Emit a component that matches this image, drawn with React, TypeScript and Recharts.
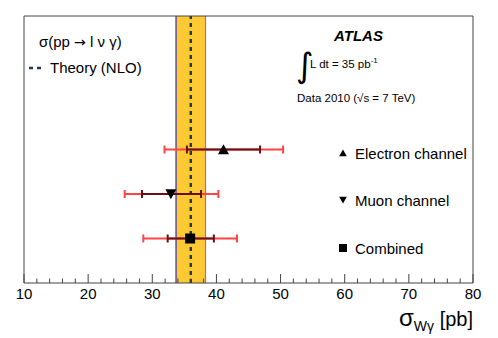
import { ScatterChart, Scatter, XAxis, YAxis, ErrorBar, ReferenceArea, ReferenceLine } from 'recharts';

const channels = ['Electron channel', 'Muon channel', 'Combined'];
const rowPos = [3, 2, 1];
const central = [41.1, 32.9, 35.9];
const statLo = [35.4, 28.4, 32.4];
const statHi = [46.8, 37.6, 39.6];
const totLo = [31.9, 25.7, 28.6];
const totHi = [50.4, 40.3, 43.2];

const theory = 36.0;
const theoryLo = 33.7;
const theoryHi = 38.3;

const xTicks = [10, 12, 14, 16, 18, 20, 22, 24, 26, 28, 30, 32, 34, 36, 38, 40, 42, 44, 46, 48, 50, 52, 54, 56, 58, 60, 62, 64, 66, 68, 70, 72, 74, 76, 78, 80];

const FONT = '"Liberation Sans", Arial, Helvetica, sans-serif';
const AXIS = '#444';

const points = channels.map((name, i) => ({
  name,
  x: central[i],
  y: rowPos[i],
  stat: [central[i] - statLo[i], statHi[i] - central[i]],
  tot: [central[i] - totLo[i], totHi[i] - central[i]],
}));

const triUp = (cx: number, cy: number, s: number) =>
  `${cx - s},${cy + s * 0.85} ${cx + s},${cy + s * 0.85} ${cx},${cy - s * 0.95}`;
const triDown = (cx: number, cy: number, s: number) =>
  `${cx - s},${cy - s * 0.85} ${cx + s},${cy - s * 0.85} ${cx},${cy + s * 0.95}`;

const shapes = [
  (p: any) => <polygon points={triUp(p.cx, p.cy, 5.5)} fill="#000" />,
  (p: any) => <polygon points={triDown(p.cx, p.cy, 5.5)} fill="#000" />,
  (p: any) => <rect x={p.cx - 5} y={p.cy - 5} width={10} height={10} fill="#000" />,
];

const BottomTick = (props: any) => {
  const { x, y, payload } = props;
  const major = payload.value % 10 === 0;
  return (
    <g>
      <line x1={x} x2={x} y1={y} y2={y - (major ? 9 : 4.5)} stroke={AXIS} strokeWidth={1} />
      {major && (
        <text x={x} y={y + 16} textAnchor="middle" fontSize={15} fontFamily={FONT} fill="#000">
          {payload.value}
        </text>
      )}
    </g>
  );
};

const TopTick = (props: any) => {
  const { x, y, payload } = props;
  const major = payload.value % 10 === 0;
  return <line x1={x} x2={x} y1={y} y2={y + (major ? 8 : 4)} stroke={AXIS} strokeWidth={1} />;
};

export default function App() {
  return (
    <div style={{ position: 'absolute', left: 0, top: 0, width: 498, height: 338, background: '#fff' }}>
      <ScatterChart width={498} height={338} margin={{ top: 15, right: 24, left: 23, bottom: 0 }}>
        <XAxis
          type="number"
          dataKey="x"
          domain={[10, 80]}
          ticks={xTicks}
          interval={0}
          tickSize={0}
          tickMargin={0}
          tick={<BottomTick />}
          height={55}
          stroke={AXIS}
          allowDataOverflow
        />
        <XAxis
          xAxisId="top"
          orientation="top"
          type="number"
          domain={[10, 80]}
          ticks={xTicks}
          interval={0}
          tickSize={0}
          tickMargin={0}
          tick={<TopTick />}
          height={1}
          stroke={AXIS}
          allowDataOverflow
        />
        <YAxis type="number" dataKey="y" domain={[0, 6]} width={1} tick={false} tickLine={false} stroke={AXIS} />
        <YAxis yAxisId="right" orientation="right" type="number" domain={[0, 6]} width={1} tick={false} tickLine={false} stroke={AXIS} />
        <ReferenceArea x1={theoryLo} x2={theoryHi} fill="#ffc933" fillOpacity={1} stroke="none" />
        <ReferenceLine x={theoryLo} stroke="#2b2bc8" strokeWidth={1.2} />
        <ReferenceLine x={theoryHi} stroke="#7a7ad8" strokeWidth={1.2} />
        <ReferenceLine x={theory} stroke="#1e3a56" strokeWidth={2.5} strokeDasharray="4 4" />
        {points.map((pt, i) => (
          <Scatter key={pt.name} name={pt.name} data={[pt]} shape={shapes[i]} isAnimationActive={false}>
            <ErrorBar dataKey="tot" direction="x" width={4} stroke="#ff4444" strokeWidth={2} isAnimationActive={false} />
            <ErrorBar dataKey="stat" direction="x" width={4} stroke="#6a1010" strokeWidth={2} isAnimationActive={false} />
          </Scatter>
        ))}
      </ScatterChart>
      <svg width={498} height={338} style={{ position: 'absolute', left: 0, top: 0, pointerEvents: 'none' }} fontFamily={FONT}>
        <text x={39} y={47} fontSize={15} fill="#000">
          σ(pp <tspan fontFamily='"DejaVu Sans"' fontSize={14}>→</tspan> l ν γ)
        </text>
        <line x1={29} x2={44} y1={68} y2={68} stroke="#1e3a56" strokeWidth={2.5} strokeDasharray="4 4" />
        <text x={50} y={73} fontSize={15} fill="#000">Theory (NLO)</text>

        <text x={334} y={41} fontSize={15} fontWeight="bold" fontStyle="italic" fill="#000">ATLAS</text>
        <text x={296} y={77} fontSize={34} fontFamily='"DejaVu Sans"' fill="#000">∫</text>
        <text x={310} y={68} fontSize={11.5} fill="#000">
          L dt = 35 pb<tspan dy={-5} fontSize={8}>-1</tspan>
        </text>
        <text x={297} y={102} fontSize={11.5} fill="#000">Data 2010 (√s = 7 TeV)</text>

        {channels.map((name, i) => {
          const ly = [153, 200, 248][i];
          return (
            <g key={name}>
              {i === 0 && <polygon points={triUp(343, ly, 3.8)} fill="#000" />}
              {i === 1 && <polygon points={triDown(343, ly, 3.8)} fill="#000" />}
              {i === 2 && <rect x={339} y={ly - 4} width={8} height={8} fill="#000" />}
              <text x={355} y={ly + 5.5} fontSize={15} fill="#000">{name}</text>
            </g>
          );
        })}

        <text x={473} y={326} textAnchor="end" fill="#000">
          <tspan fontSize={24}>σ</tspan>
          <tspan fontSize={14} dy={5}>Wγ</tspan>
          <tspan fontSize={20} dy={-5}> [pb]</tspan>
        </text>
      </svg>
    </div>
  );
}
